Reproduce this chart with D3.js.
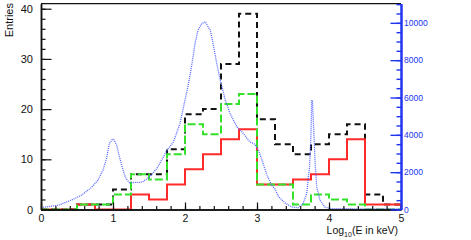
<!DOCTYPE html>
<html>
<head>
<meta charset="utf-8">
<script src="https://cdn.jsdelivr.net/npm/d3@7"></script>
<style>
  body { margin: 0; background: #fff; }
  text { font-family: "Liberation Sans", Arial, sans-serif; }
</style>
</head>
<body>
<div id="chart"></div>
<script>
// histogram binning (log10 E, 0.25 wide bins)
const binEdges = d3.range(0, 5.0001, 0.25);

// left axis histograms (entries per bin)
const blackCounts = [0, 0, 1, 1, 4, 7, 7, 12, 19, 20, 29, 39, 18, 13, 11, 13, 15, 17, 3, 1];
const greenCounts = [0, 0, 1, 1, 3, 7, 6, 11, 17, 15, 21, 23, 5, 5, 1, 3, 2, 1, 0, 0];
const redCounts   = [0, 0, 1, 0, 0, 3, 2, 5, 8, 11, 14, 16, 5, 5, 6, 7, 10, 14, 1, 1];

// right axis spectrum (log10 E, counts)
const specLogE = [0.0, 0.24, 0.42, 0.56, 0.70, 0.79, 0.86, 0.91, 0.95, 0.99, 1.01, 1.05, 1.09, 1.14,
  1.18, 1.23, 1.30, 1.375, 1.42, 1.51, 1.61, 1.70, 1.75, 1.84, 1.93, 1.98, 2.05, 2.09, 2.14, 2.18,
  2.23, 2.28, 2.32, 2.35, 2.39, 2.44, 2.49, 2.56, 2.625, 2.72, 2.81, 2.90, 2.97, 3.02, 3.07, 3.13,
  3.20, 3.25, 3.30, 3.39, 3.48, 3.57, 3.64, 3.69, 3.73, 3.75, 3.76, 3.77, 3.79, 3.81, 3.83, 3.875,
  3.94, 4.01, 4.3, 4.6, 5.0];
const specCounts = [100, 230, 500, 760, 1180, 1570, 2100, 2730, 3540, 3750, 3750, 3450, 2820, 2100,
  1660, 1430, 1450, 1450, 1500, 1750, 2200, 2820, 3180, 3620, 4610, 5500, 6760, 7650, 8900, 9610,
  9940, 10060, 9790, 9610, 8900, 7830, 6930, 5860, 5150, 4430, 4075, 3620, 3500, 3180, 2640, 1930,
  1300, 1100, 680, 350, 140, 100, 320, 860, 2280, 4070, 5860, 5800, 4070, 2280, 1210, 500,
  140, 50, 40, 30, 30];

const leftTicks = [0, 10, 20, 30, 40];
const rightTicks = [0, 2000, 4000, 6000, 8000, 10000];
const xTicks = [0, 1, 2, 3, 4, 5];

const svgWidth = 471;
const svgHeight = 240;
const margin = { top: 3.7, right: 70, bottom: 30.5, left: 41 };
const plotW = svgWidth - margin.left - margin.right;
const plotH = svgHeight - margin.top - margin.bottom;

const svg = d3.select("#chart").append("svg")
  .attr("width", svgWidth)
  .attr("height", svgHeight);

const g = svg.append("g")
  .attr("transform", `translate(${margin.left}, ${margin.top})`);

const x = d3.scaleLinear().domain([0, 5]).range([0, plotW]);
const yL = d3.scaleLinear().domain([0, 41]).range([plotH, 0]);
const yR = d3.scaleLinear().domain([0, 11025]).range([plotH, 0]);

// build step outline for a histogram
function stepPoints(counts) {
  const pts = [[binEdges[0], 0]];
  counts.forEach((c, i) => {
    pts.push([binEdges[i], c]);
    pts.push([binEdges[i + 1], c]);
  });
  pts.push([binEdges[counts.length], 0]);
  return pts;
}

const histLine = d3.line().x(d => x(d[0])).y(d => yL(d[1]));

g.append("path")
  .attr("d", histLine(stepPoints(blackCounts)))
  .attr("fill", "none")
  .attr("stroke", "#111")
  .attr("stroke-width", 2)
  .attr("stroke-dasharray", "6,4");

g.append("path")
  .attr("d", histLine(stepPoints(redCounts)))
  .attr("fill", "none")
  .attr("stroke", "#ff2a2a")
  .attr("stroke-width", 2);

g.append("path")
  .attr("d", histLine(stepPoints(greenCounts)))
  .attr("fill", "none")
  .attr("stroke", "#33e02a")
  .attr("stroke-width", 2)
  .attr("stroke-dasharray", "8,3");

// blue spectrum, dotted
const specLine = d3.line()
  .x((d, i) => x(specLogE[i]))
  .y(d => yR(d));

g.append("path")
  .attr("d", specLine(specCounts))
  .attr("fill", "none")
  .attr("stroke", "#5566ff")
  .attr("stroke-width", 1.3)
  .attr("stroke-dasharray", "1,1");

// frame top
g.append("line")
  .attr("x1", 0).attr("x2", plotW)
  .attr("y1", 0).attr("y2", 0)
  .attr("stroke", "#111").attr("stroke-width", 1.3);

// left axis
const leftAxis = g.append("g")
  .call(d3.axisLeft(yL).tickValues(leftTicks).tickSizeInner(-10.5).tickSizeOuter(0).tickPadding(8));
g.append("g")
  .call(d3.axisLeft(yL).tickValues(d3.range(0, 41, 2)).tickSizeInner(-4.5).tickSizeOuter(0).tickFormat(""));

// bottom axis
const bottomAxis = g.append("g")
  .attr("transform", `translate(0, ${plotH})`)
  .call(d3.axisBottom(x).tickValues(xTicks).tickSizeInner(-7).tickSizeOuter(0).tickPadding(5.5).tickFormat(d3.format("d")));
g.append("g")
  .attr("transform", `translate(0, ${plotH})`)
  .call(d3.axisBottom(x).tickValues(d3.range(0, 5.001, 0.2)).tickSizeInner(-3.5).tickSizeOuter(0).tickFormat(""));

leftAxis.selectAll("text").attr("font-size", 11).attr("fill", "#111");
bottomAxis.selectAll("text").attr("font-size", 10.5).attr("fill", "#111");
g.selectAll(".domain").attr("stroke", "#111").attr("stroke-width", 1.5);
g.selectAll(".tick line").attr("stroke", "#111").attr("stroke-width", 1.2);

// right axis (blue)
const rightAxis = g.append("g")
  .attr("transform", `translate(${plotW}, 0)`)
  .call(d3.axisRight(yR).tickValues(rightTicks).tickSizeInner(-10.5).tickSizeOuter(0).tickPadding(3).tickFormat(d3.format("d")));
const rightMinor = g.append("g")
  .attr("transform", `translate(${plotW}, 0)`)
  .call(d3.axisRight(yR).tickValues(d3.range(0, 11001, 500)).tickSizeInner(-4.5).tickSizeOuter(0).tickFormat(""));
[rightAxis, rightMinor].forEach(a => {
  a.select(".domain").attr("stroke", "#2035f0").attr("stroke-width", 2);
  a.selectAll(".tick line").attr("stroke", "#2035f0").attr("stroke-width", 1.4);
});
rightAxis.selectAll("text").attr("font-size", 8.5).attr("fill", "#2035f0");

// axis titles
svg.append("text")
  .attr("transform", "translate(13, 3) rotate(-90)")
  .attr("text-anchor", "end")
  .attr("font-size", 11)
  .attr("fill", "#111")
  .text("Entries");

const xTitle = svg.append("text")
  .attr("x", 398)
  .attr("y", 234)
  .attr("text-anchor", "end")
  .attr("font-size", 10.5)
  .attr("fill", "#111");
xTitle.append("tspan").text("Log");
xTitle.append("tspan").attr("font-size", 7).attr("dy", 3).text("10");
xTitle.append("tspan").attr("dy", -3).text("(E in keV)");
</script>
</body>
</html>
